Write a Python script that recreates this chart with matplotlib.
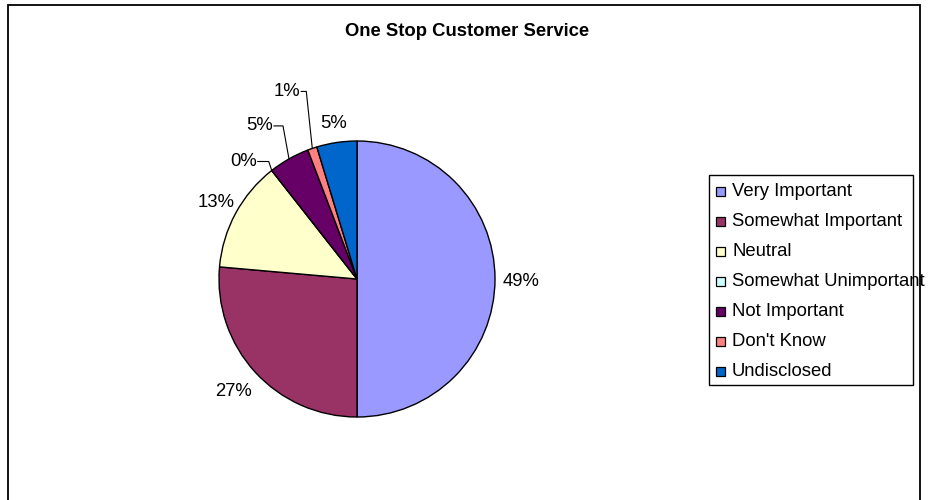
import matplotlib.pyplot as plt
import numpy as np
from matplotlib.patches import Rectangle

# data
categories = ['Very Important', 'Somewhat Important', 'Neutral',
              'Somewhat Unimportant', 'Not Important', "Don't Know", 'Undisclosed']
shares = [50.0, 26.4, 13.0, 0.0, 4.8, 1.1, 4.7]     # slice sizes
pct_labels = ['49%', '27%', '13%', '0%', '5%', '1%', '5%']
colors = ['#9999FF', '#993366', '#FFFFCC', '#CCFFFF', '#660066', '#FF8080', '#0066CC']

plt.rcParams['font.family'] = ['Liberation Sans', 'DejaVu Sans']
FS = 13.3

W, H = 933, 500
fig = plt.figure(figsize=(W / 100, H / 100), dpi=100)
ax = fig.add_axes([0, 0, 1, 1])

# pie in pixel coordinates (y up)
cx, cy, r = 357, H - 279, 138
wedges, _ = ax.pie(shares, colors=colors, startangle=90, counterclock=False,
                   center=(cx, cy), radius=r, frame=True, normalize=True,
                   wedgeprops=dict(edgecolor='black', linewidth=1.0))
ax.set_xlim(0, W)
ax.set_ylim(0, H)
ax.set_aspect('auto')
ax.axis('off')

# small slices get a leader line: (dx, dy) offset of text right end from the edge point
label_r = {0: 1.19, 1: 1.21, 2: 1.16, 6: 1.14}
leader = {3: (-15, 9), 4: (-16, 33), 5: (-12, 57)}

for i, w in enumerate(wedges):
    ang = np.deg2rad((w.theta1 + w.theta2) / 2)
    ex, ey = cx + r * np.cos(ang), cy + r * np.sin(ang)
    txt = pct_labels[i]
    if i in leader:
        dx, dy = leader[i]
        tx, ty = ex + dx, ey + dy
        elbow_x = ex - (3 if i == 3 else 6)
        ax.plot([tx + 1, elbow_x, ex], [ty, ty, ey], color='black', lw=0.8)
        ax.text(tx, ty, txt, ha='right', va='center', fontsize=FS)
    else:
        rr = label_r[i] * r
        ax.text(cx + rr * np.cos(ang), cy + rr * np.sin(ang) - (3 if i == 0 else 0), txt,
                ha='center', va='center', fontsize=FS)

# title
ax.text(467, H - 31, 'One Stop Customer Service', ha='center', va='center',
        fontsize=FS, fontweight='bold')

# legend box
ax.add_patch(Rectangle((709, H - 385), 204, 210, facecolor='white',
                       edgecolor='black', lw=1.0))
for i, (cat, col) in enumerate(zip(categories, colors)):
    y = H - (191 + 30 * i)
    ax.add_patch(Rectangle((716, y - 4.5), 9, 9, facecolor=col,
                           edgecolor='black', lw=0.9))
    ax.text(732, y, cat, ha='left', va='center', fontsize=FS)

# outer border
ax.add_patch(Rectangle((8, -10), 912, H - 5 + 10, fill=False,
                       edgecolor='black', lw=1.3))

fig.savefig('out.png', dpi=100)
